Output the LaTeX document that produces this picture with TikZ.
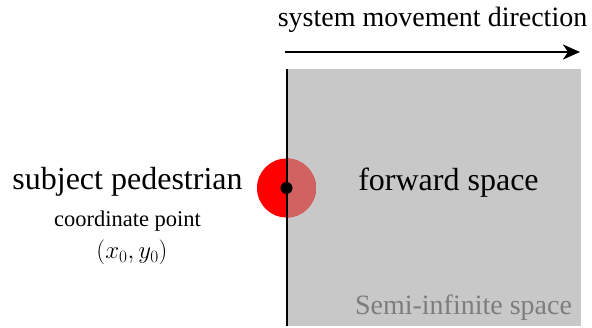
\documentclass[tikz,border=0pt]{standalone}
\usepackage{fontspec}
\setmainfont{LiberationSerif}[Extension=.ttf,UprightFont=*-Regular,BoldFont=*-Bold,ItalicFont=*-Italic,BoldItalicFont=*-BoldItalic]
\usetikzlibrary{arrows.meta}
\definecolor{spacegray}{RGB}{200,200,200}
\definecolor{halfred}{RGB}{208,98,98}
\definecolor{labelgray}{RGB}{125,125,125}
\begin{document}
\begin{tikzpicture}[x=1pt,y=-1pt,
  lbl/.style={anchor=base,inner sep=0pt,font=#1},
  lbl/.default={\fontsize{32}{36}\selectfont}]
\useasboundingbox (0,0) rectangle (592,328);
% semi-infinite space
\fill[spacegray] (287,69) rectangle (581,326);
% pedestrian disc
\coordinate (ped) at (286.5,188);
\fill[red] (ped) circle[radius=29.5];
\begin{scope}
  \clip (287,150) rectangle (330,230);
  \fill[halfred] (ped) circle[radius=29.5];
\end{scope}
% boundary line
\coordinate (ltop) at (287,69);
\coordinate (lbot) at (287,326);
\draw[line width=2.6pt] (ltop) -- (lbot);
\fill[black] (ped) circle[radius=6];
% movement arrow
\coordinate (astart) at (285,52);
\coordinate (aend) at (580,52);
\draw[line width=2.6pt,-{Stealth[length=17pt,width=15pt,inset=5pt]}] (astart) -- (aend);
% texts
\node[lbl={\fontsize{28}{32}\selectfont}] (dir) at (432.5,27) {system movement direction};
\node[lbl] (subj) at (127.5,190) {subject pedestrian};
\node[lbl] (fwd) at (448.5,191) {forward space};
\node[lbl={\fontsize{22.5}{26}\selectfont}] (coord) at (127.5,227) {coordinate point};
\node[lbl={\fontsize{25}{28}\selectfont}] (xy) at (132,259) {$(x_0,y_0)$};
\node[lbl={\fontsize{28}{32}\selectfont},text=labelgray] (semi) at (463.5,315) {Semi-infinite space};
\end{tikzpicture}
\end{document}
